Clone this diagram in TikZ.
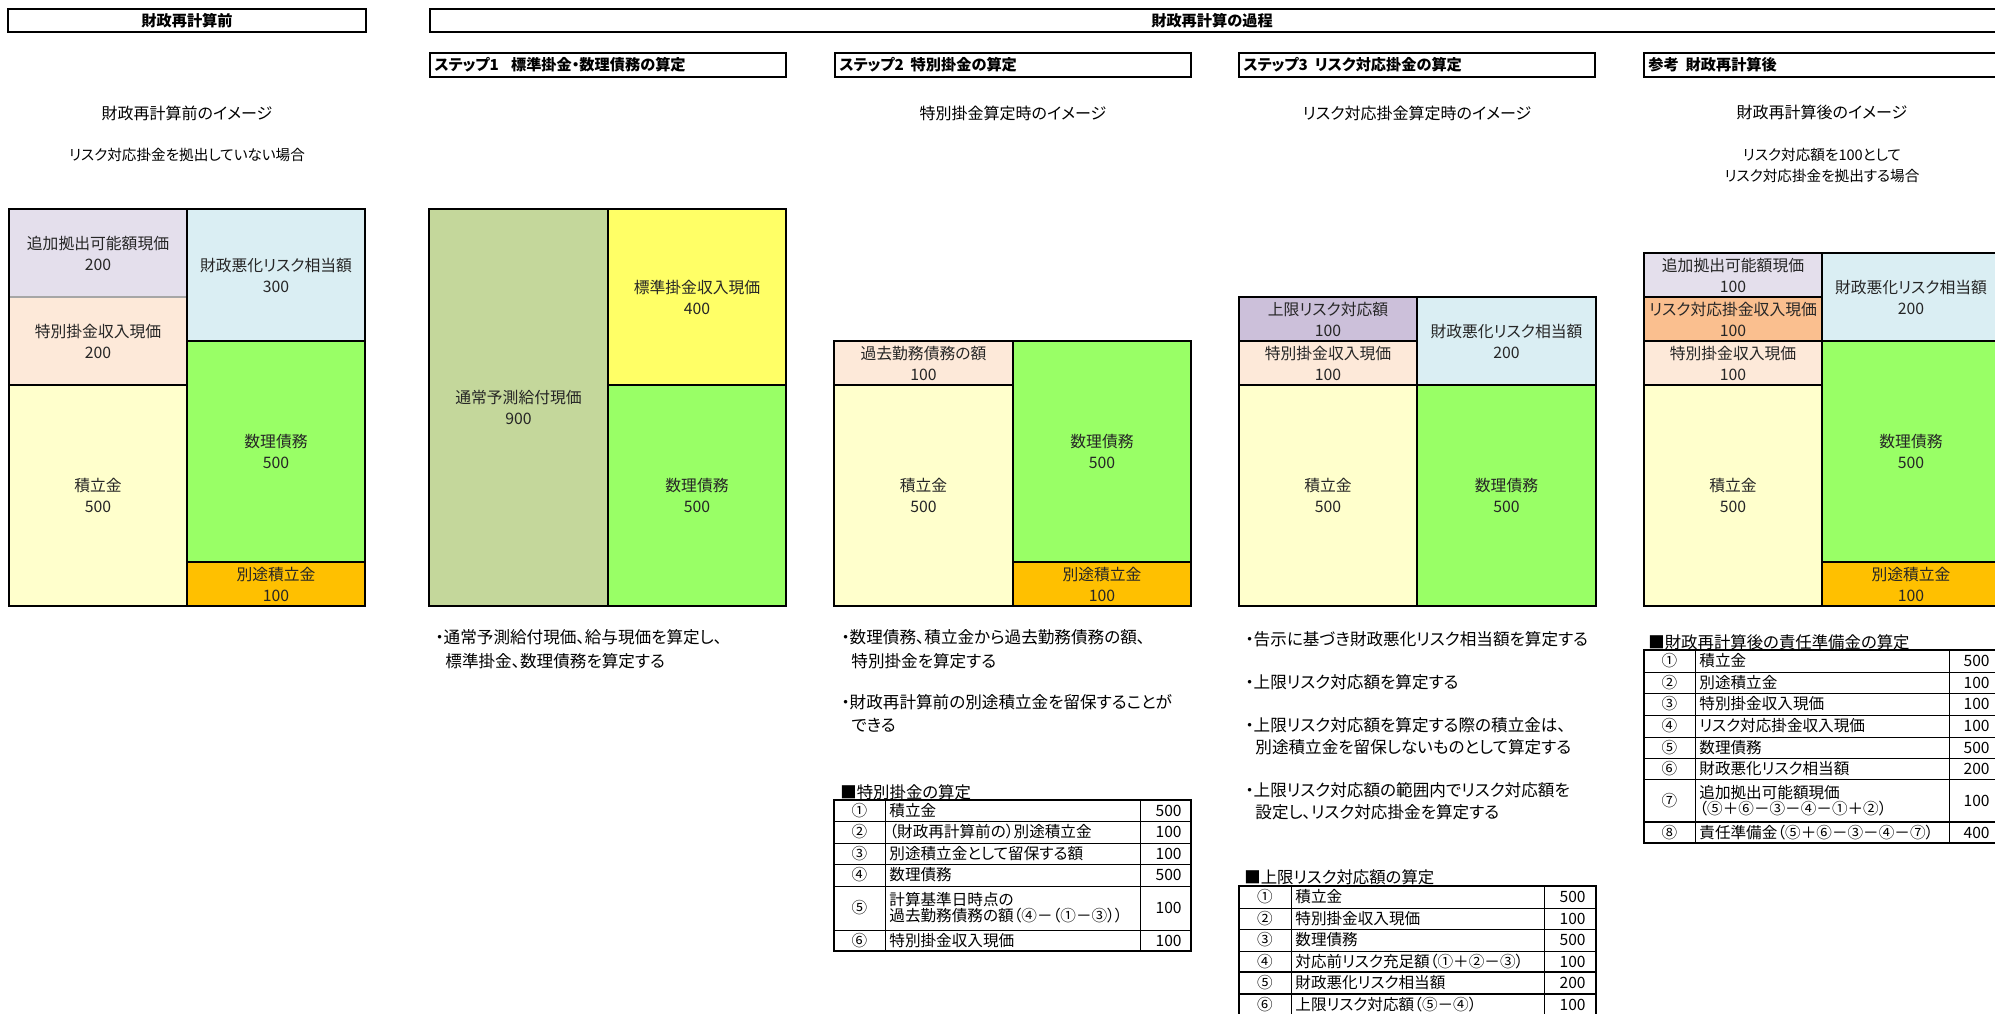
\documentclass[tikz,border=0pt]{standalone}
\usepackage{fontspec}
\setmainfont{Noto Sans CJK JP}[RawFeature=+palt]
\definecolor{cAdd}{HTML}{E4DFEC}
\definecolor{cSpec}{HTML}{FDE9D9}
\definecolor{cFund}{HTML}{FFFFCC}
\definecolor{cRisk}{HTML}{DAEEF3}
\definecolor{cLiab}{HTML}{99FF66}
\definecolor{cSep}{HTML}{FFC000}
\definecolor{cBen}{HTML}{C4D79B}
\definecolor{cStd}{HTML}{FFFF66}
\definecolor{cCap}{HTML}{CCC0DA}
\definecolor{cRc}{HTML}{FABF8F}
\tikzset{
 blk/.style={draw=black, line width=1pt},
 boxtext/.style={align=center, font=\fontsize{7.9}{10.5}\selectfont, inner sep=0pt, text=black!85},
 hdrbox/.style={draw=black, line width=1.3pt},
 hdrtext/.style={font=\bfseries\fontsize{7.6}{9}\selectfont, inner sep=0pt},
 imgtext/.style={font=\fontsize{8}{10}\selectfont, inner sep=0pt},
 subtext/.style={font=\fontsize{7.3}{9}\selectfont, inner sep=0pt},
 bullet/.style={font=\fontsize{8.3}{10}\selectfont, inner sep=0pt, anchor=west},
 tbltitle/.style={font=\fontsize{8.2}{10}\selectfont, inner sep=0pt, anchor=west},
 tbltext/.style={font=\fontsize{7.8}{7.9}\selectfont, inner sep=0pt},
 tblouter/.style={draw=black, line width=1pt},
 tblinner/.style={draw=black, line width=0.5pt},
 tblthick/.style={draw=black, line width=1pt},
}
\newcommand\cellbox[7]{%
  \draw[blk, fill=#6] (#2,#3) rectangle (#4,#5);
  \node[boxtext] (#1) at ({(#2+#4)/2},{(#3+#5)/2}) {#7};}
\newcommand\trow[6]{%
  \node[tbltext] (#1n) at ({(\tA+\tB)/2},{(#2+#3)/2}) {#4};
  \node[tbltext, anchor=west, align=left] (#1t) at ({\tB+4},{(#2+#3)/2}) {#5};
  \node[tbltext, anchor=east] (#1v) at ({\tV},{(#2+#3)/2}) {#6};
  \draw[tblinner] (\tA,#3) -- (\tD,#3);}
\begin{document}
\begin{tikzpicture}[x=0.5pt,y=-0.5pt]
\useasboundingbox (0,0) rectangle (1995,1013);
\clip (0,0) rectangle (1995,1013);
\fill[white] (0,0) rectangle (1995,1013);

% ---------- headers ----------
\draw[hdrbox] (8,9) rectangle (366,32);
\node[hdrtext] (hpre) at (187,20.5) {財政再計算前};
\draw[hdrbox] (430,9) rectangle (2010,32);
\node[hdrtext] (hproc) at (1212,20.5) {財政再計算の過程};
\draw[hdrbox] (430,53) rectangle (786,77);
\node[hdrtext, anchor=west] (hs1) at (434,65) {ステップ1\hspace{0.8em}標準掛金・数理債務の算定};
\draw[hdrbox] (835,53) rectangle (1191,77);
\node[hdrtext, anchor=west] (hs2) at (839,65) {ステップ2\hspace{0.45em}特別掛金の算定};
\draw[hdrbox] (1239,53) rectangle (1595,77);
\node[hdrtext, anchor=west] (hs3) at (1243,65) {ステップ3\hspace{0.45em}リスク対応掛金の算定};
\draw[hdrbox] (1644,53) rectangle (2010,77);
\node[hdrtext, anchor=west] (hs4) at (1648,65) {参考\hspace{0.45em}財政再計算後};

% ---------- image captions ----------
\node[imgtext] (i1) at (187,113) {財政再計算前のイメージ};
\node[subtext] (s1) at (187,155) {リスク対応掛金を拠出していない場合};
\node[imgtext] (i3) at (1013,113) {特別掛金算定時のイメージ};
\node[imgtext] (i4) at (1417,113) {リスク対応掛金算定時のイメージ};
\node[imgtext] (i5) at (1822,112) {財政再計算後のイメージ};
\node[subtext] (s5a) at (1822,155) {リスク対応額を100として};
\node[subtext] (s5b) at (1822,176) {リスク対応掛金を拠出する場合};

% ---------- block 1 ----------
\cellbox{b1add}{9}{209}{187}{297}{cAdd}{追加拠出可能額現価\\200}
\cellbox{b1spec}{9}{297}{187}{385}{cSpec}{特別掛金収入現価\\200}
\cellbox{b1fund}{9}{385}{187}{606}{cFund}{積立金\\500}
\cellbox{b1risk}{187}{209}{365}{341}{cRisk}{財政悪化リスク相当額\\300}
\cellbox{b1liab}{187}{341}{365}{562}{cLiab}{数理債務\\500}
\cellbox{b1sep}{187}{562}{365}{606}{cSep}{別途積立金\\100}
\draw[gray!70, line width=0.7pt] (10,297) -- (186,297);

% ---------- block 2 ----------
\cellbox{b2ben}{429}{209}{608}{606}{cBen}{通常予測給付現価\\900}
\cellbox{b2std}{608}{209}{786}{385}{cStd}{標準掛金収入現価\\400}
\cellbox{b2liab}{608}{385}{786}{606}{cLiab}{数理債務\\500}

% ---------- block 3 ----------
\cellbox{b3past}{834}{341}{1013}{385}{cSpec}{過去勤務債務の額\\100}
\cellbox{b3fund}{834}{385}{1013}{606}{cFund}{積立金\\500}
\cellbox{b3liab}{1013}{341}{1191}{562}{cLiab}{数理債務\\500}
\cellbox{b3sep}{1013}{562}{1191}{606}{cSep}{別途積立金\\100}

% ---------- block 4 ----------
\cellbox{b4cap}{1239}{297}{1417}{341}{cCap}{上限リスク対応額\\100}
\cellbox{b4spec}{1239}{341}{1417}{385}{cSpec}{特別掛金収入現価\\100}
\cellbox{b4fund}{1239}{385}{1417}{606}{cFund}{積立金\\500}
\cellbox{b4risk}{1417}{297}{1596}{385}{cRisk}{財政悪化リスク相当額\\200}
\cellbox{b4liab}{1417}{385}{1596}{606}{cLiab}{数理債務\\500}

% ---------- block 5 ----------
\cellbox{b5add}{1644}{253}{1822}{297}{cAdd}{追加拠出可能額現価\\100}
\cellbox{b5rc}{1644}{297}{1822}{341}{cRc}{リスク対応掛金収入現価\\100}
\cellbox{b5spec}{1644}{341}{1822}{385}{cSpec}{特別掛金収入現価\\100}
\cellbox{b5fund}{1644}{385}{1822}{606}{cFund}{積立金\\500}
\cellbox{b5risk}{1822}{253}{2000}{341}{cRisk}{財政悪化リスク相当額\\200}
\cellbox{b5liab}{1822}{341}{2000}{562}{cLiab}{数理債務\\500}
\cellbox{b5sep}{1822}{562}{2000}{606}{cSep}{別途積立金\\100}

% ---------- bullets ----------
\node[bullet] (t1a) at (435,637) {・通常予測給付現価、給与現価を算定し、};
\node[bullet] (t1b) at (445,661) {標準掛金、数理債務を算定する};
\node[bullet] (t2a) at (841,637) {・数理債務、積立金から過去勤務債務の額、};
\node[bullet] (t2b) at (851,661) {特別掛金を算定する};
\node[bullet] (t2c) at (841,702) {・財政再計算前の別途積立金を留保することが};
\node[bullet] (t2d) at (851,725) {できる};
\node[bullet] (t3a) at (1245,639) {・告示に基づき財政悪化リスク相当額を算定する};
\node[bullet] (t3b) at (1245,682) {・上限リスク対応額を算定する};
\node[bullet] (t3c) at (1245,725) {・上限リスク対応額を算定する際の積立金は、};
\node[bullet] (t3d) at (1255,747) {別途積立金を留保しないものとして算定する};
\node[bullet] (t3e) at (1245,790) {・上限リスク対応額の範囲内でリスク対応額を};
\node[bullet] (t3f) at (1255,812) {設定し、リスク対応掛金を算定する};

% ---------- table A ----------
\node[tbltitle] (ta) at (840,792) {■特別掛金の算定};
\def\tA{834}\def\tB{885}\def\tC{1140}\def\tD{1191}\def\tV{1182}
\trow{taa}{800}{821}{①}{積立金}{500}
\trow{tab}{821}{843}{②}{（財政再計算前の）別途積立金}{100}
\trow{tac}{843}{864}{③}{別途積立金として留保する額}{100}
\trow{tad}{864}{886}{④}{数理債務}{500}
\trow{tae}{886}{930}{⑤}{計算基準日時点の\\過去勤務債務の額（④－（①－③））}{100}
\trow{taf}{930}{951}{⑥}{特別掛金収入現価}{100}
\draw[tblinner] (\tB,800) -- (\tB,951) (\tC,800) -- (\tC,951);
\draw[tblouter] (\tA,800) rectangle (\tD,951);

% ---------- table B ----------
\node[tbltitle] (tb) at (1244,877) {■上限リスク対応額の算定};
\def\tA{1239}\def\tB{1291}\def\tC{1544}\def\tD{1596}\def\tV{1586}
\trow{tba}{886}{908}{①}{積立金}{500}
\trow{tbb}{908}{929}{②}{特別掛金収入現価}{100}
\trow{tbc}{929}{951}{③}{数理債務}{500}
\trow{tbd}{951}{972}{④}{対応前リスク充足額（①＋②－③）}{100}
\trow{tbe}{972}{994}{⑤}{財政悪化リスク相当額}{200}
\trow{tbf}{994}{1016}{⑥}{上限リスク対応額（⑤－④）}{100}
\draw[tblthick] (\tA,972) -- (\tD,972) (\tA,994) -- (\tD,994);
\draw[tblinner] (\tB,886) -- (\tB,1016) (\tC,886) -- (\tC,1016);
\draw[tblouter] (\tA,886) rectangle (\tD,1016);

% ---------- table C ----------
\node[tbltitle] (tc) at (1648,642) {■財政再計算後の責任準備金の算定};
\def\tA{1644}\def\tB{1695}\def\tC{1949}\def\tD{2010}\def\tV{1990}
\trow{tca}{650}{672}{①}{積立金}{500}
\trow{tcb}{672}{693}{②}{別途積立金}{100}
\trow{tcc}{693}{715}{③}{特別掛金収入現価}{100}
\trow{tcd}{715}{737}{④}{リスク対応掛金収入現価}{100}
\trow{tce}{737}{758}{⑤}{数理債務}{500}
\trow{tcf}{758}{779}{⑥}{財政悪化リスク相当額}{200}
\trow{tcg}{779}{822}{⑦}{追加拠出可能額現価\\（⑤＋⑥－③－④－①＋②）}{100}
\trow{tch}{822}{843}{⑧}{責任準備金（⑤＋⑥－③－④－⑦）}{400}
\draw[tblthick] (\tA,822) -- (\tD,822);
\draw[tblinner] (\tB,650) -- (\tB,843) (\tC,650) -- (\tC,843);
\draw[tblouter] (\tA,650) rectangle (\tD,843);
\end{tikzpicture}
\end{document}
